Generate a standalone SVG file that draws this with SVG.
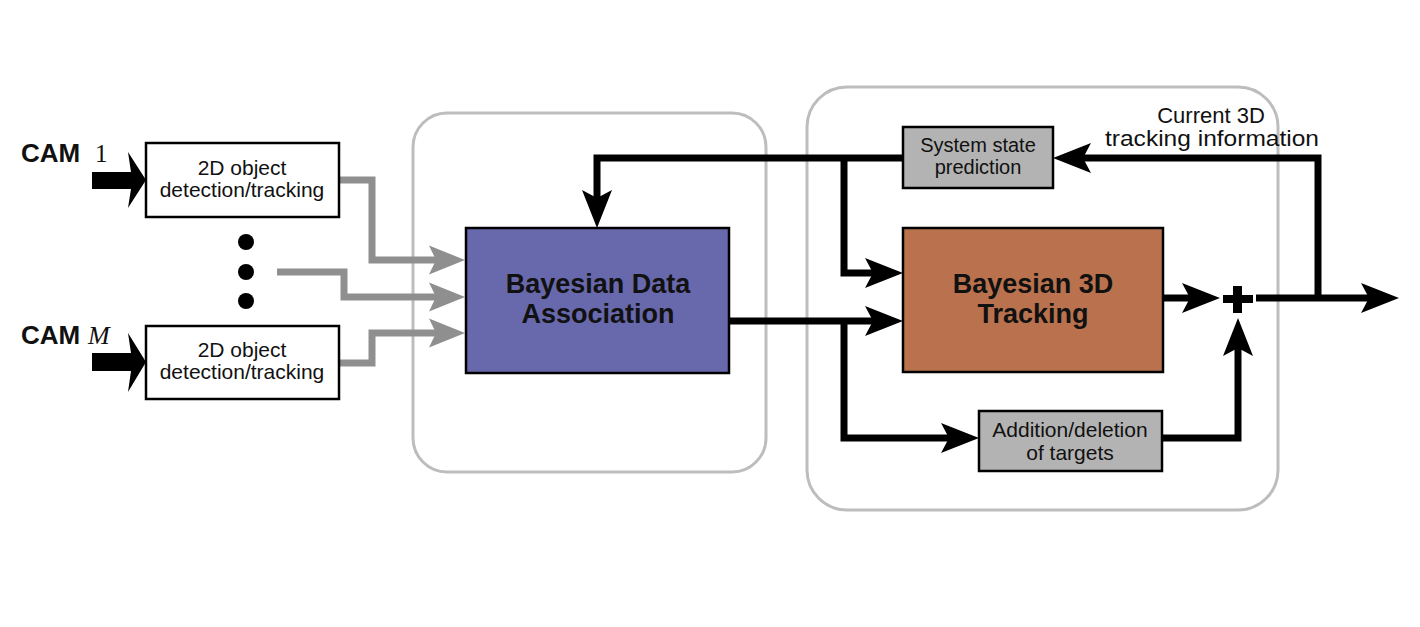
<svg xmlns="http://www.w3.org/2000/svg" width="1420" height="627" viewBox="0 0 1420 627">
<style>
.grp{fill:none;stroke:#bdbdbd;stroke-width:3}
.box{stroke:#000;stroke-width:2.5}
.t{font-family:"Liberation Sans",Arial,sans-serif;text-anchor:middle;fill:#111}
.big{font-family:"Liberation Sans",Arial,sans-serif;font-weight:bold;text-anchor:middle;fill:#111;font-size:27px}
.blk{fill:none;stroke:#000;stroke-width:7;stroke-linejoin:miter}
.gry{fill:none;stroke:#8f8f8f;stroke-width:7;stroke-linejoin:miter}
</style>
<defs>
<marker id="ab" markerUnits="userSpaceOnUse" markerWidth="40" markerHeight="32" viewBox="0 -16 38 32" refX="8" refY="0" orient="auto">
<path d="M0,-15 L38,0 L0,15 L8,0 Z" fill="#000"/>
</marker>
<marker id="ag" markerUnits="userSpaceOnUse" markerWidth="38" markerHeight="32" viewBox="0 -16 36 32" refX="7" refY="0" orient="auto">
<path d="M0,-14.5 L36,0 L0,14.5 L7,0 Z" fill="#8f8f8f"/>
</marker>
</defs>
<rect width="1420" height="627" fill="#fff"/>

<g id="group-association"><rect class="grp" x="413" y="113" width="353" height="359" rx="34"/></g>
<g id="group-tracking"><rect class="grp" x="807" y="87" width="471" height="423" rx="40"/></g>

<g id="connectors">
<path class="gry" d="M339,180 H372 V260 H436" marker-end="url(#ag)"/>
<path class="gry" d="M277,272 H344 V297 H436" marker-end="url(#ag)"/>
<path class="gry" d="M339,363 H372 V333 H436" marker-end="url(#ag)"/>
<path class="blk" d="M1318,298 V158 H1083" marker-end="url(#ab)"/>
<path class="blk" d="M903,158 H597 V198" marker-end="url(#ab)"/>
<path class="blk" d="M844,158 V273 H873" marker-end="url(#ab)"/>
<path class="blk" d="M729,321 H873" marker-end="url(#ab)"/>
<path class="blk" d="M844,321 V438 H949" marker-end="url(#ab)"/>
<path class="blk" d="M1163,298 H1190" marker-end="url(#ab)"/>
<path class="blk" d="M1162,438 H1238 V348" marker-end="url(#ab)"/>
<path class="blk" d="M1256,298 H1369" marker-end="url(#ab)"/>
<g id="plus" fill="#000">
<rect x="1223" y="295" width="30" height="8"/>
<rect x="1233" y="286" width="9" height="27"/>
</g>
</g>

<g id="cam1">
<text x="21" y="162" font-family="Liberation Sans,Arial,sans-serif" font-weight="bold" font-size="26" fill="#111">CAM</text>
<text x="95" y="162" font-family="Liberation Serif,Times New Roman,serif" font-size="25" fill="#111">1</text>
<polygon points="92,172 131,172 128,152 146,180 128,208 131,189 92,189" fill="#000"/>
</g>
<g id="camM">
<text x="21" y="344" font-family="Liberation Sans,Arial,sans-serif" font-weight="bold" font-size="26" fill="#111">CAM</text>
<text x="88" y="344" font-family="Liberation Serif,Times New Roman,serif" font-style="italic" font-size="26" fill="#111">M</text>
<polygon points="92,353 131,353 128,333 146,362 128,392 131,371 92,371" fill="#000"/>
</g>

<g id="det1">
<rect class="box" x="146" y="143" width="193" height="74" fill="#fff"/>
<text class="t" x="242" y="175" font-size="21">2D object</text>
<text class="t" x="242" y="197" font-size="21">detection/tracking</text>
</g>
<g id="dots" fill="#000">
<circle cx="246" cy="242" r="8"/>
<circle cx="246" cy="272" r="8"/>
<circle cx="246" cy="301" r="8"/>
</g>
<g id="detM">
<rect class="box" x="146" y="326" width="193" height="73" fill="#fff"/>
<text class="t" x="242" y="357" font-size="21">2D object</text>
<text class="t" x="242" y="379" font-size="21">detection/tracking</text>
</g>

<g id="bda">
<rect class="box" x="466" y="228" width="263" height="145" fill="#6868ac" stroke-width="3"/>
<text class="big" x="598" y="293">Bayesian Data</text>
<text class="big" x="598" y="323">Association</text>
</g>

<g id="ssp">
<rect class="box" x="903" y="127" width="150" height="61" fill="#b3b3b3"/>
<text class="t" x="978" y="152" font-size="20">System state</text>
<text class="t" x="978" y="174" font-size="20">prediction</text>
</g>

<g id="b3d">
<rect class="box" x="903" y="228" width="260" height="144" fill="#b9724d" stroke-width="3"/>
<text class="big" x="1033" y="293">Bayesian 3D</text>
<text class="big" x="1033" y="323">Tracking</text>
</g>

<g id="add">
<rect class="box" x="979" y="411" width="183" height="60" fill="#b3b3b3"/>
<text class="t" x="1070" y="437" font-size="21">Addition/deletion</text>
<text class="t" x="1070" y="460" font-size="21">of targets</text>
</g>

<g id="label-current">
<text class="t" x="1211" y="123" font-size="22">Current 3D</text>
<text class="t" x="1212" y="146" font-size="22" textLength="214" lengthAdjust="spacingAndGlyphs">tracking information</text>
</g>
</svg>
